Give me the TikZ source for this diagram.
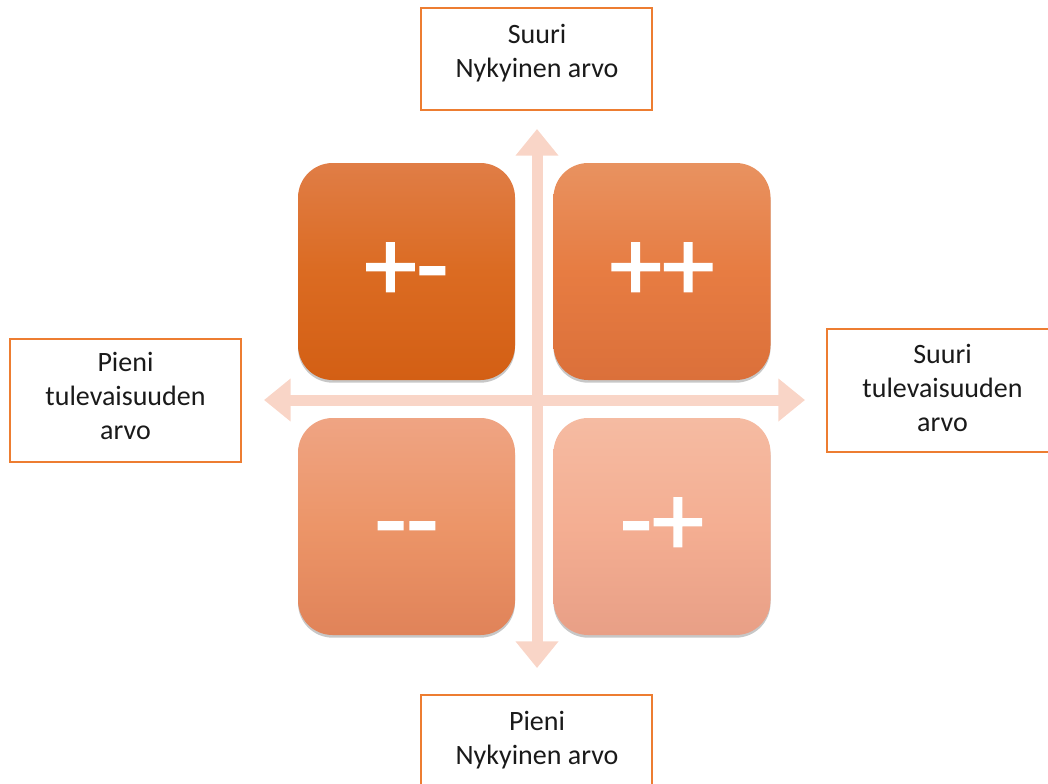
\documentclass[tikz,border=0pt]{standalone}
\usepackage{fontspec}
\setmainfont{Carlito}
\newfontfamily\signfont[FakeBold=1.6]{Carlito}
\usetikzlibrary{arrows.meta,shadows}

\definecolor{frameorange}{HTML}{ED7D31}
\definecolor{axispeach}{HTML}{F9D5C7}
\definecolor{inktext}{HTML}{1A1A1A}

\tikzset{
  labelframe/.style={draw=frameorange, line width=1.6pt, fill=white,
    minimum width=173.25pt, inner sep=0pt},
  labeltext/.style={text=inktext, align=center, inner sep=0pt,
    font=\fontsize{21}{25.5}\selectfont},
  quadrant/.style={rectangle, rounded corners=26pt, shade,
    minimum width=162.75pt, minimum height=162.75pt, inner sep=0pt,
    text=white, font=\signfont\fontsize{78}{78}\selectfont},
  quadshadow/.style={drop shadow={shadow xshift=0pt, shadow yshift=-2pt,
    opacity=0.22, fill=black}},
  axisarrow/.style={draw=axispeach, line width=8.25pt,
    {Triangle[width=31pt,length=20pt]}-{Triangle[width=31pt,length=20pt]}}
}

\begin{document}
\begin{tikzpicture}[x=0.75pt,y=-0.75pt]
  \useasboundingbox (0,0) rectangle (1048,783);
  \clip (0,0) rectangle (1048,783);

  % axes
  \coordinate (vtop) at (537,129);
  \coordinate (vbot) at (537,668);
  \coordinate (hleft) at (264,400);
  \coordinate (hright) at (805,400);
  \draw[axisarrow] (vbot) -- (vtop);
  \draw[axisarrow] (hleft) -- (hright);

  % four quadrants
  \node[quadrant, quadshadow, top color={rgb,255:red,224;green,125;blue,70},
        bottom color={rgb,255:red,211;green,95;blue,20},
        middle color={rgb,255:red,219;green,107;blue,34}]
        (qpm) at (406.5,271.5) {+-\vphantom{+}};
  \node[quadrant, quadshadow, top color={rgb,255:red,232;green,146;blue,96},
        bottom color={rgb,255:red,219;green,112;blue,58},
        middle color={rgb,255:red,231;green,124;blue,66}]
        (qpp) at (662,271.5) {++};
  \node[quadrant, quadshadow, top color={rgb,255:red,239;green,164;blue,131},
        bottom color={rgb,255:red,224;green,131;blue,89},
        middle color={rgb,255:red,236;green,149;blue,104}]
        (qmm) at (406.5,526.5) {-{}-\vphantom{+}};
  \node[quadrant, quadshadow, top color={rgb,255:red,245;green,187;blue,162},
        bottom color={rgb,255:red,232;green,159;blue,134},
        middle color={rgb,255:red,244;green,174;blue,146}]
        (qmp) at (662,526.5) {-+};

  % label frames
  \node[labelframe, minimum height=76.5pt] (topframe) at (536.5,59) {};
  \node[labelframe, minimum height=76.5pt] (botframe) at (536.5,746) {};
  \node[labelframe, minimum height=92.25pt] (leftframe) at (125.5,400.5) {};
  \node[labelframe, minimum height=92.25pt] (rightframe) at (942.5,390.5) {};

  % label texts
  \node[labeltext] (toptext) at (537,53.6) {Suuri\\Nykyinen arvo};
  \node[labeltext] (bottext) at (537,740) {Pieni\\Nykyinen arvo};
  \node[labeltext] (lefttext) at (125.5,396) {Pieni\\tulevaisuuden\\arvo};
  \node[labeltext] (righttext) at (942.5,388) {Suuri\\tulevaisuuden\\arvo};
\end{tikzpicture}
\end{document}
